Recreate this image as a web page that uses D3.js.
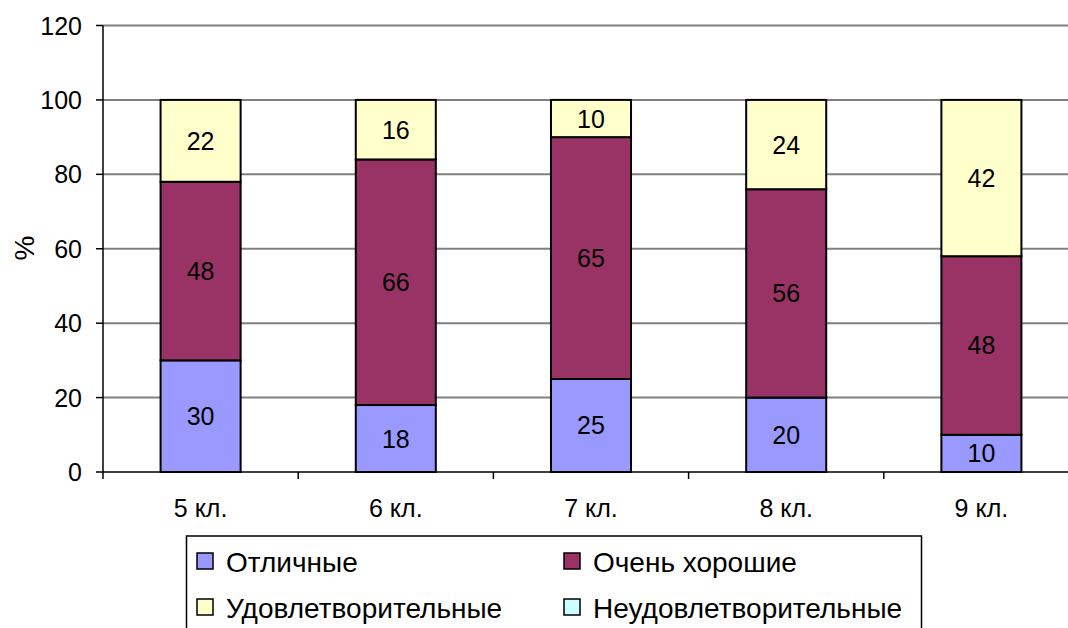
<!DOCTYPE html>
<html><head><meta charset="utf-8">
<script src="https://cdn.jsdelivr.net/npm/d3@7"></script>
<style>body{margin:0;background:#fff}svg{display:block;font-family:"Liberation Sans",Arial,sans-serif}</style>
</head><body><svg id="c" width="1068" height="628"></svg>
<script>
const categories = ["5 кл.", "6 кл.", "7 кл.", "8 кл.", "9 кл."];
const seriesNames = ["Отличные", "Очень хорошие", "Удовлетворительные", "Неудовлетворительные"];
const excellent = [30, 18, 25, 20, 10];
const veryGood = [48, 66, 65, 56, 48];
const satisfactory = [22, 16, 10, 24, 42];
const unsatisfactory = [0, 0, 0, 0, 0];
const yTicks = [0, 20, 40, 60, 80, 100, 120];
const colors = ["#9999FF", "#993366", "#FFFFCC", "#CCFFFF"];

const svg = d3.select("#c");
const pLeft = 103, pRight = 1079, pTop = 25.5, pBottom = 472;
const x = d3.scaleBand().domain(categories).range([pLeft, pRight]).paddingInner(0.59).paddingOuter(0.295);
const xb = d3.scaleBand().domain(categories).range([pLeft, pRight]);
const y = d3.scaleLinear().domain([0, 120]).range([pBottom, pTop]);

// gridlines
svg.append("g").selectAll("line").data(yTicks.filter(d => d > 0)).join("line")
  .attr("x1", pLeft).attr("x2", 1068).attr("y1", d => y(d)).attr("y2", d => y(d))
  .attr("stroke", "#808080").attr("stroke-width", 2);

const stackData = categories.map((c, i) => ({cat: c, s0: excellent[i], s1: veryGood[i], s2: satisfactory[i], s3: unsatisfactory[i]}));
const stack = d3.stack().keys(["s0", "s1", "s2", "s3"])(stackData);

const g = svg.append("g");
stack.forEach((layer, li) => {
  layer.forEach(seg => {
    const v = seg[1] - seg[0];
    if (v <= 0) return;
    g.append("rect")
      .attr("x", x(seg.data.cat)).attr("width", x.bandwidth())
      .attr("y", y(seg[1])).attr("height", y(seg[0]) - y(seg[1]))
      .attr("fill", colors[li]).attr("stroke", "#000").attr("stroke-width", 2);
  });
});
stack.forEach((layer, li) => {
  layer.forEach(seg => {
    const v = seg[1] - seg[0];
    if (v <= 0) return;
    g.append("text")
      .attr("x", x(seg.data.cat) + x.bandwidth() / 2)
      .attr("y", y((seg[0] + seg[1]) / 2) + 9)
      .attr("text-anchor", "middle").attr("font-size", 25).attr("fill", "#000")
      .text(v);
  });
});

// axes lines
svg.append("line").attr("x1", pLeft).attr("x2", pLeft).attr("y1", pTop).attr("y2", pBottom).attr("stroke", "#000").attr("stroke-width", 1.5);
svg.append("line").attr("x1", pLeft).attr("x2", 1068).attr("y1", pBottom).attr("y2", pBottom).attr("stroke", "#000").attr("stroke-width", 1.5);
// y ticks
const yt = svg.append("g");
yTicks.forEach(t => {
  yt.append("line").attr("x1", 96).attr("x2", pLeft).attr("y1", y(t)).attr("y2", y(t)).attr("stroke", "#000").attr("stroke-width", 1.5);
  yt.append("text").attr("x", 82).attr("y", y(t) + 9).attr("text-anchor", "end").attr("font-size", 25).text(t);
});
// x ticks
const xt = svg.append("g");
categories.forEach(c => {
  xt.append("line").attr("x1", xb(c)).attr("x2", xb(c)).attr("y1", pBottom).attr("y2", pBottom + 7).attr("stroke", "#000").attr("stroke-width", 1.5);
  xt.append("text").attr("x", xb(c) + xb.bandwidth() / 2).attr("y", 517).attr("text-anchor", "middle").attr("font-size", 25).text(c);
});
// y title
svg.append("text").attr("transform", "translate(34,248) rotate(-90)").attr("text-anchor", "middle").attr("font-size", 28).text("%");

// legend
const lg = svg.append("g");
lg.append("rect").attr("x", 186.5).attr("y", 536).attr("width", 735).attr("height", 110).attr("fill", "#fff").attr("stroke", "#000").attr("stroke-width", 1.5);
const legPos = [[197, 553], [564, 553], [197, 599], [564, 599]];
seriesNames.forEach((n, i) => {
  const [lx, ly] = legPos[i];
  lg.append("rect").attr("x", lx).attr("y", ly).attr("width", 16).attr("height", 16).attr("fill", colors[i]).attr("stroke", "#000").attr("stroke-width", 1.5);
  lg.append("text").attr("x", lx + 29).attr("y", ly + 19).attr("font-size", 28).text(n);
});
</script></body></html>
